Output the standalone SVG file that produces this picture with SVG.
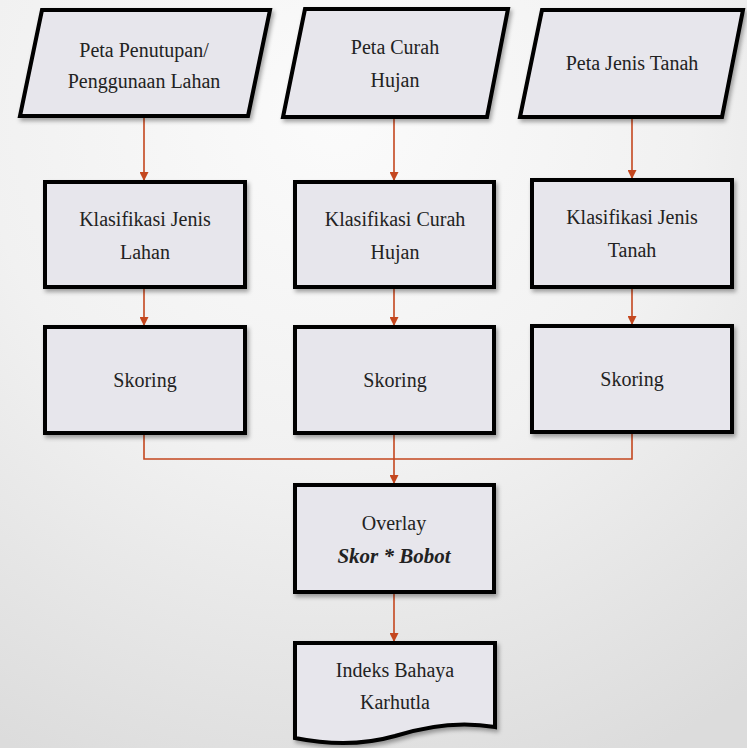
<svg xmlns="http://www.w3.org/2000/svg" width="747" height="748" viewBox="0 0 747 748">
  <style>
    .shape { fill: #e7e6ec; stroke: #000; stroke-width: 4; stroke-linejoin: miter; filter: url(#shadow); }
    .label { font-family: 'Liberation Serif', 'DejaVu Serif', serif; font-size: 20px; fill: #222; text-anchor: middle; }
    .em { font-weight: bold; font-style: italic; font-size: 21px; }
    .link { fill: none; stroke: #c4471f; stroke-width: 1.6; }
  </style>
  <defs>
    <radialGradient id="bg" cx="0.45" cy="0.15" r="0.95">
      <stop offset="0" stop-color="#fbfbfb"/>
      <stop offset="0.5" stop-color="#f1f1f1"/>
      <stop offset="1" stop-color="#dcdcdc"/>
    </radialGradient>
    <filter id="shadow" x="-10%" y="-10%" width="125%" height="130%">
      <feDropShadow dx="2" dy="3" stdDeviation="2" flood-color="#000" flood-opacity="0.35"/>
    </filter>
    <marker id="arrow" viewBox="0 0 10 10" refX="10" refY="5" markerWidth="9" markerHeight="9" markerUnits="userSpaceOnUse" orient="auto">
      <path d="M0,0 L10,5 L0,10 z" fill="#c4471f"/>
    </marker>
  </defs>

  <rect width="747" height="748" fill="url(#bg)"/>

  <!-- connectors -->
  <g id="connectors">
    <line class="link" x1="144" y1="118" x2="144" y2="181" marker-end="url(#arrow)"/>
    <line class="link" x1="394" y1="118" x2="394" y2="181" marker-end="url(#arrow)"/>
    <line class="link" x1="632" y1="118" x2="632" y2="179" marker-end="url(#arrow)"/>
    <line class="link" x1="144" y1="288" x2="144" y2="326" marker-end="url(#arrow)"/>
    <line class="link" x1="394" y1="288" x2="394" y2="326" marker-end="url(#arrow)"/>
    <line class="link" x1="632" y1="288" x2="632" y2="325" marker-end="url(#arrow)"/>
    <polyline class="link" points="144,434 144,459 632,459 632,433"/>
    <line class="link" x1="394" y1="434" x2="394" y2="484" marker-end="url(#arrow)"/>
    <line class="link" x1="394" y1="594" x2="394" y2="642" marker-end="url(#arrow)"/>
  </g>

  <!-- input maps -->
  <g id="peta-penutupan">
    <polygon class="shape" points="42,10 270,10 248,116 20,116"/>
    <text class="label" x="144" y="57" font-family="Liberation Serif">Peta Penutupan/</text>
    <text class="label" x="144" y="88" font-family="Liberation Serif">Penggunaan Lahan</text>
  </g>
  <g id="peta-curah-hujan">
    <polygon class="shape" points="305,9 508,9 487,117 283,117"/>
    <text class="label" x="395" y="54">Peta Curah</text>
    <text class="label" x="395" y="87">Hujan</text>
  </g>
  <g id="peta-jenis-tanah">
    <polygon class="shape" points="542,10 743,10 722,117 520,117"/>
    <text class="label" x="632" y="70">Peta Jenis Tanah</text>
  </g>

  <!-- classification -->
  <g id="klasifikasi-lahan">
    <rect class="shape" x="45" y="182" width="200" height="105"/>
    <text class="label" x="145" y="226">Klasifikasi Jenis</text>
    <text class="label" x="145" y="259">Lahan</text>
  </g>
  <g id="klasifikasi-curah">
    <rect class="shape" x="295" y="182" width="199" height="105"/>
    <text class="label" x="395" y="226">Klasifikasi Curah</text>
    <text class="label" x="395" y="259">Hujan</text>
  </g>
  <g id="klasifikasi-tanah">
    <rect class="shape" x="532" y="180" width="200" height="107"/>
    <text class="label" x="632" y="224">Klasifikasi Jenis</text>
    <text class="label" x="632" y="257">Tanah</text>
  </g>

  <!-- scoring -->
  <g id="skoring-lahan">
    <rect class="shape" x="45" y="327" width="200" height="106"/>
    <text class="label" x="145" y="387">Skoring</text>
  </g>
  <g id="skoring-curah">
    <rect class="shape" x="295" y="327" width="199" height="106"/>
    <text class="label" x="395" y="387">Skoring</text>
  </g>
  <g id="skoring-tanah">
    <rect class="shape" x="532" y="326" width="200" height="106"/>
    <text class="label" x="632" y="386">Skoring</text>
  </g>

  <!-- overlay -->
  <g id="overlay">
    <rect class="shape" x="295" y="485" width="199" height="107"/>
    <text class="label" x="394" y="530">Overlay</text>
    <text class="label em" x="394" y="563">Skor * Bobot</text>
  </g>

  <!-- result document -->
  <g id="indeks">
    <path class="shape" d="M295,643 L495,643 L495,727 C455,720 420,728 395,736 C360,746 325,744 295,738 Z"/>
    <text class="label" x="395" y="677">Indeks Bahaya</text>
    <text class="label" x="395" y="709">Karhutla</text>
  </g>
</svg>
